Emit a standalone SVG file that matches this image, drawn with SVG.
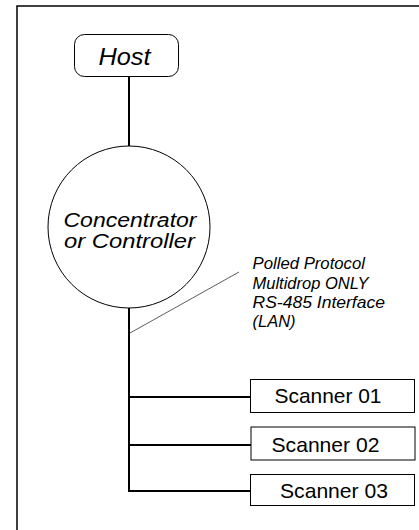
<svg xmlns="http://www.w3.org/2000/svg" width="419" height="530" viewBox="0 0 419 530">
<style>
.frame{stroke:#000;stroke-width:1.5;fill:none}
.box{fill:#fff;stroke:#000;stroke-width:1}
.wire{stroke:#000;stroke-width:2;fill:none}
.thin{stroke:#333;stroke-width:0.8;fill:none}
.it{font-family:"Liberation Sans",Arial,sans-serif;font-style:italic;fill:#000}
.up{font-family:"Liberation Sans",Arial,sans-serif;fill:#000;font-size:21px}
</style>
<rect width="419" height="530" fill="#fff"/>
<path class="frame" d="M17,530 V6 H419"/>
<g id="connectors">
<line class="wire" x1="129" y1="77" x2="129" y2="147"/>
<line class="wire" x1="129" y1="308" x2="129" y2="492"/>
<line class="wire" x1="128" y1="397" x2="250" y2="397"/>
<line class="wire" x1="128" y1="445" x2="251" y2="445"/>
<line class="wire" x1="128" y1="491" x2="250" y2="491"/>
<line class="thin" x1="239" y1="272" x2="130" y2="333"/>
</g>
<g id="host">
<rect class="box" x="74.5" y="34.5" width="104" height="42" rx="10"/>
<text class="it" x="124.5" y="65" font-size="24" text-anchor="middle" textLength="52" lengthAdjust="spacingAndGlyphs">Host</text>
</g>
<g id="controller">
<circle class="box" cx="129" cy="227" r="81" stroke="#222"/>
<text class="it" x="130" y="227" font-size="20" text-anchor="middle" textLength="133" lengthAdjust="spacingAndGlyphs">Concentrator</text>
<text class="it" x="129.5" y="248" font-size="20" text-anchor="middle" textLength="131" lengthAdjust="spacingAndGlyphs">or Controller</text>
</g>
<g id="lan-label">
<text class="it" x="252.5" y="269" font-size="16.5" textLength="112.5" lengthAdjust="spacingAndGlyphs">Polled Protocol</text>
<text class="it" x="252.5" y="288.5" font-size="16.5" textLength="116" lengthAdjust="spacingAndGlyphs">Multidrop ONLY</text>
<text class="it" x="252.5" y="308" font-size="16.5" textLength="132.5" lengthAdjust="spacingAndGlyphs">RS-485 Interface</text>
<text class="it" x="252.5" y="327" font-size="16.5">(LAN)</text>
</g>
<g id="scanner01">
<rect class="box" x="250.5" y="379.5" width="164" height="33"/>
<text class="up" x="274.5" y="403" textLength="107" lengthAdjust="spacingAndGlyphs">Scanner 01</text>
</g>
<g id="scanner02">
<rect class="box" x="251" y="427" width="164" height="33"/>
<text class="up" x="271.5" y="451.5" textLength="108" lengthAdjust="spacingAndGlyphs">Scanner 02</text>
</g>
<g id="scanner03">
<rect class="box" x="250.5" y="474.5" width="164" height="31"/>
<text class="up" x="280" y="498" textLength="108" lengthAdjust="spacingAndGlyphs">Scanner 03</text>
</g>
</svg>
